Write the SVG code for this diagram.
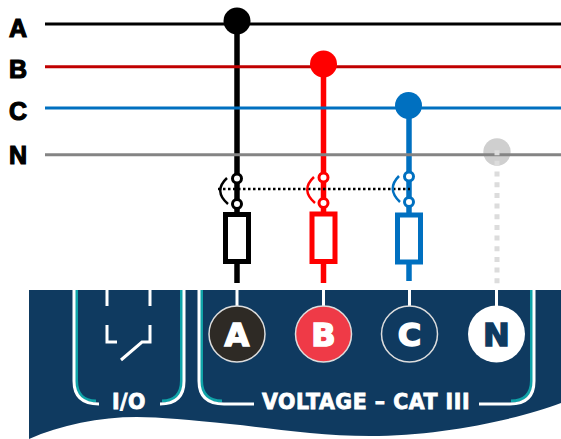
<svg xmlns="http://www.w3.org/2000/svg" width="561" height="439" viewBox="0 0 561 439">
<style>
.lbl{font-family:"Liberation Sans",Arial,sans-serif;font-weight:bold;font-size:25px;fill:#000;stroke:#000;stroke-width:1.200;text-anchor:middle}
.bus{stroke-width:3;fill:none}
.ph{fill:none;stroke-width:5.500}
.sw{fill:#fff;stroke-width:3}
.arc{fill:none;stroke-width:2.500}
.wh{fill:none;stroke:#fff;stroke-width:3}
.te{fill:none;stroke:#10a3a8;stroke-width:3}
.pl{font-family:"DejaVu Sans",Arial,sans-serif;font-weight:bold;text-anchor:middle;stroke-width:1.500;font-size:32px}
.cap{font-family:"DejaVu Sans",Arial,sans-serif;font-weight:bold;font-size:20.500px;letter-spacing:.5px;fill:#fff;stroke:#fff;stroke-width:.8;text-anchor:middle}
</style>
<rect width="561" height="439" fill="#fff"/>
<g id="panel">
<path d="M29 290H561V403C520 419 440 436 370 436C320 436 270 428 230 424C190 420 160 417 137 417C100 417 60 425 29 439Z" fill="#0f3a60"/>
</g>
<g id="io-bracket">
<path class="te" d="M76.500 290V380Q76.500 401 96 401"/>
<path class="te" d="M181.500 290V380Q181.500 401 162 401"/>
<path class="wh" d="M74 290V381Q74 404 99 404"/>
<path class="wh" d="M184 290V381Q184 404 160 404"/>
<text class="cap" x="129" y="409">I/O</text>
</g>
<g id="relay">
<path class="wh" d="M107 290V306M150 290V306"/>
<path class="wh" d="M107 325V342H117"/>
<path class="wh" d="M150 325V342H142L121 360"/>
</g>
<g id="voltage-bracket">
<path class="te" d="M201.500 290V380Q201.500 401 222 401"/>
<path class="te" d="M531.500 290V380Q531.500 401 511 401"/>
<path class="wh" d="M199 290V381Q199 404 224 404H254"/>
<path class="wh" d="M534 290V381Q534 404 510 404H479"/>
<text class="cap" x="366" y="409">VOLTAGE – CAT III</text>
</g>
<g id="dot-N"><circle cx="497" cy="152" r="13.700" fill="#cfcfcf"/></g>
<g id="connectors">
<line class="bus" x1="45" y1="24" x2="561" y2="24" stroke="#000"/>
<line class="ph" x1="237" y1="21" x2="237" y2="283" stroke="#000"/>
<line class="ph" x1="323.500" y1="64" x2="323.500" y2="283" stroke="#f00"/>
<line class="ph" x1="409" y1="105" x2="409" y2="281" stroke="#0070c0"/>
<line class="bus" x1="45" y1="66.700" x2="561" y2="66.700" stroke="#c00000"/>
<line class="bus" x1="45" y1="108" x2="561" y2="108" stroke="#0070c0"/>
<line class="bus" x1="45" y1="154.700" x2="561" y2="154.700" stroke="#848484"/>
<line x1="497" y1="150.200" x2="497" y2="284" stroke="#dcdcdc" stroke-width="5" stroke-dasharray="5 5.670"/>
<line x1="218" y1="189" x2="410" y2="189" stroke="#000" stroke-width="2.500" stroke-dasharray="2.500 2.500"/>
<line x1="237" y1="290" x2="237" y2="307" stroke="#fff" stroke-width="3"/>
<line x1="323.500" y1="290" x2="323.500" y2="307" stroke="#fff" stroke-width="3"/>
<line x1="409.500" y1="290" x2="409.500" y2="307" stroke="#fff" stroke-width="3"/>
<line x1="496.500" y1="290" x2="496.500" y2="307" stroke="#fff" stroke-width="3"/>
</g>
<g id="label-A"><text class="lbl" x="18" y="37">A</text></g>
<g id="label-B"><text class="lbl" x="18" y="78">B</text></g>
<g id="label-C"><text class="lbl" x="18" y="120">C</text></g>
<g id="label-N"><text class="lbl" x="18" y="164">N</text></g>
<g id="dot-A"><circle cx="237" cy="21" r="13.500" fill="#000"/></g>
<g id="dot-B"><circle cx="323.500" cy="64" r="13.500" fill="#f00"/></g>
<g id="dot-C"><circle cx="408.500" cy="105.500" r="13.500" fill="#0070c0"/></g>
<g id="fuse-A" stroke="#000">
<circle class="sw" cx="237" cy="178.500" r="4.500"/><circle class="sw" cx="237" cy="204" r="4.500"/>
<path class="arc" d="M227 178Q213 191 228 204"/>
<rect x="225.500" y="214.500" width="23" height="47" fill="#fff" stroke-width="5"/>
</g>
<g id="fuse-B" stroke="#f00">
<circle class="sw" cx="323.500" cy="177.500" r="4.500"/><circle class="sw" cx="323.500" cy="203" r="4.500"/>
<path class="arc" d="M314 177Q300 190 315 203"/>
<rect x="312" y="214" width="23" height="47.500" fill="#fff" stroke-width="5"/>
</g>
<g id="fuse-C" stroke="#0070c0">
<circle class="sw" cx="409" cy="176.500" r="4.500"/><circle class="sw" cx="409" cy="202" r="4.500"/>
<path class="arc" d="M399 176Q386 189 400 202"/>
<rect x="397.500" y="215" width="23" height="47" fill="#fff" stroke-width="5"/>
</g>
<g id="terminal-A"><circle cx="237" cy="334" r="28" fill="#2e2a25" stroke="#ddd" stroke-width="1.500"/><text class="pl" x="237" y="346" fill="#fff" stroke="#fff">A</text></g>
<g id="terminal-B"><circle cx="323.500" cy="334" r="28" fill="#ef3a47" stroke="#ddd" stroke-width="1.500"/><text class="pl" x="323.500" y="346" fill="#fff" stroke="#fff">B</text></g>
<g id="terminal-C"><circle cx="409.500" cy="334" r="28" fill="#0f3a60" stroke="#ddd" stroke-width="1.500"/><text class="pl" x="409.500" y="346" fill="#fff" stroke="#fff">C</text></g>
<g id="terminal-N"><circle cx="496.500" cy="334" r="28.500" fill="#fff"/><text class="pl" x="496.500" y="346" fill="#0f3a60" stroke="#0f3a60">N</text></g>
</svg>
